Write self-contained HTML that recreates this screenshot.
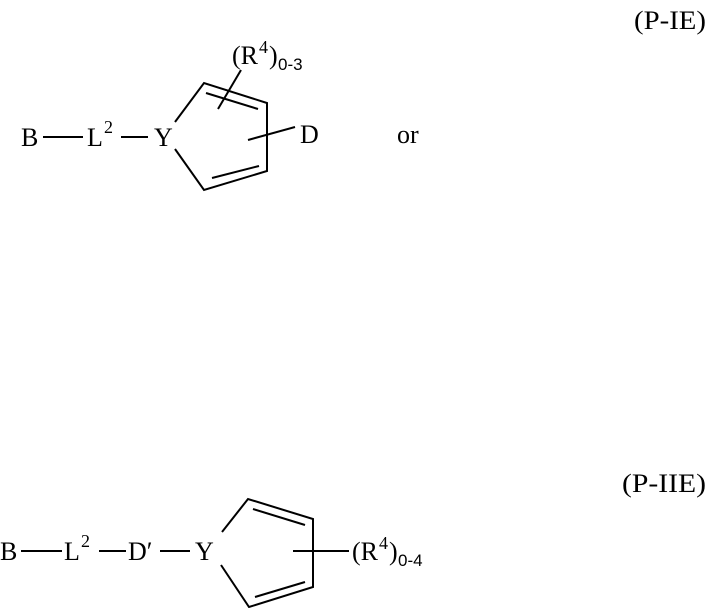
<!DOCTYPE html>
<html><head><meta charset="utf-8"><style>
html,body{margin:0;padding:0;background:#fff;}
svg{display:block;}
text{font-family:"Liberation Serif",serif;font-size:26px;fill:#000;}
.s{font-size:18px;}
.ss{font-family:"Liberation Sans",sans-serif;font-size:17px;}
</style></head><body>
<svg width="708" height="608" viewBox="0 0 708 608" xmlns="http://www.w3.org/2000/svg">
<g stroke="#000" stroke-width="2" fill="none" stroke-linecap="butt">
<line x1="43" y1="137" x2="83" y2="137"/>
<line x1="121" y1="137" x2="148" y2="137"/>
<polyline points="175,122 204,83 267,103 267,171 204,190 175,149"/>
<line x1="206" y1="93" x2="258" y2="109"/>
<line x1="212" y1="178" x2="259" y2="166"/>
<line x1="218" y1="109" x2="241" y2="70"/>
<line x1="248" y1="140" x2="295" y2="127"/>
<line x1="21" y1="551" x2="62" y2="551"/>
<line x1="99" y1="551" x2="126" y2="551"/>
<line x1="160" y1="551" x2="190" y2="551"/>
<polyline points="222,532 248,499 313,519 313,587 249,607 221,565"/>
<line x1="253" y1="509" x2="305" y2="525"/>
<line x1="255" y1="597" x2="305" y2="582"/>
<line x1="293" y1="551" x2="349" y2="551"/>
</g>
<text x="634" y="29" textLength="72" lengthAdjust="spacingAndGlyphs">(P-IE)</text>
<text x="21" y="146">B</text>
<text x="87" y="146">L</text><text class="s" x="104" y="133">2</text>
<text x="154" y="146">Y</text>
<text x="232" y="64">(R</text><text class="s" x="259" y="53">4</text><text x="269" y="64">)</text><text class="ss" x="278" y="70">0-3</text>
<text x="300" y="143">D</text>
<text x="397" y="143">or</text>

<text x="622" y="492" textLength="84" lengthAdjust="spacingAndGlyphs">(P-IIE)</text>
<text x="0" y="560">B</text>
<text x="64" y="560">L</text><text class="s" x="81" y="547">2</text>
<text x="128" y="560">D′</text>
<text x="195" y="560">Y</text>
<text x="352" y="560">(R</text><text class="s" x="379" y="549">4</text><text x="389" y="560">)</text><text class="ss" x="398" y="566">0-4</text>
</svg>
</body></html>
